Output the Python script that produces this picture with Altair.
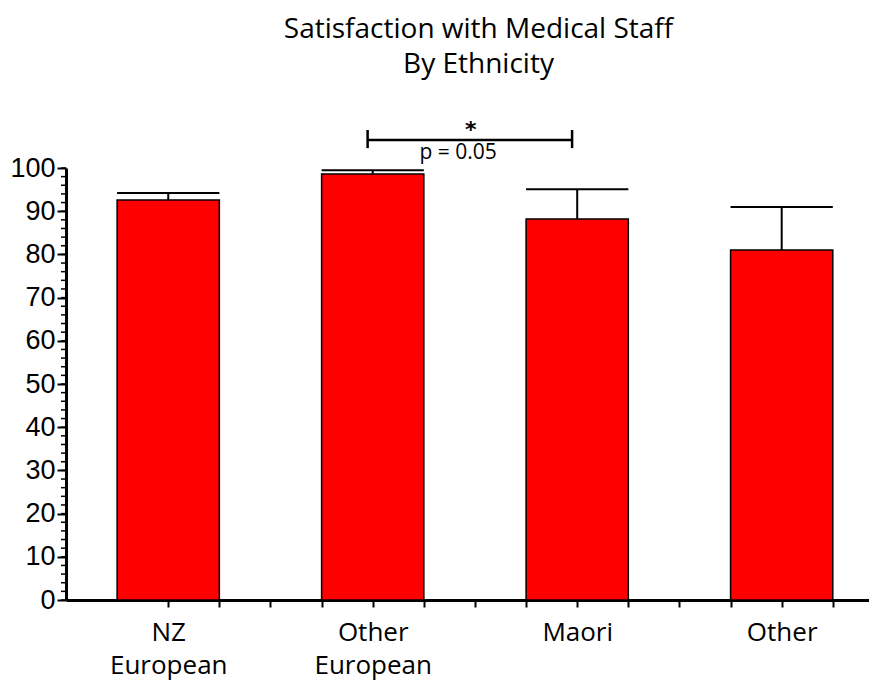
import altair as alt
import pandas as pd

# ---- data ----
categories = ["NZ European", "Other European", "Maori", "Other"]
label_lines = [["NZ", "European"], ["Other", "European"], ["Maori"], ["Other"]]
positions = [1, 2, 3, 4]
means = [92.6, 98.6, 88.2, 81.0]
upper = [94.2, 99.5, 95.1, 91.0]

y_major = [0, 10, 20, 30, 40, 50, 60, 70, 80, 90, 100]
y_minor = [0, 2, 4, 6, 8, 10, 12, 14, 16, 18, 20, 22, 24, 26, 28, 30, 32, 34, 36, 38, 40,
           42, 44, 46, 48, 50, 52, 54, 56, 58, 60, 62, 64, 66, 68, 70, 72, 74, 76, 78, 80,
           82, 84, 86, 88, 90, 92, 94, 96, 98, 100]
x_ticks = [1.0, 1.25, 1.5, 1.75, 2.0, 2.25, 2.5, 2.75, 3.0, 3.25, 3.5, 3.75, 4.0, 4.25]

# significance annotation (Other European vs Maori)
sig_x = [1.975, 2.975]
sig_y = 106.5
sig_tick_lo = 104.6
sig_tick_hi = 108.8
star_pos = (2.48, 108.8)
p_pos = (2.418, 103.5)
p_text = "p = 0.05"

bar_half = 0.25

df = pd.DataFrame({"cat": categories, "pos": positions, "mean": means, "upper": upper})
df["x0"] = df["pos"] - bar_half
df["x1"] = df["pos"] + bar_half

minor_df = pd.DataFrame({"v": y_minor})
bracket_h = pd.DataFrame({"x0": [sig_x[0]], "x1": [sig_x[1]], "y": [sig_y]})
bracket_v = pd.DataFrame({"x": sig_x, "y0": [sig_tick_lo] * 2, "y1": [sig_tick_hi] * 2})
star_df = pd.DataFrame({"x": [star_pos[0]], "y": [star_pos[1]], "t": ["*"]})
p_df = pd.DataFrame({"x": [p_pos[0]], "y": [p_pos[1]], "t": [p_text]})

# label expression built from the category lines
expr = "''"
for p, lines in reversed(list(zip(positions, label_lines))):
    arr = "[" + ",".join("'" + s + "'" for s in lines) + "]"
    expr = f"datum.value == {p} ? {arr} : ({expr})"

xscale = alt.Scale(domain=[0.5, 4.427], nice=False, zero=False)
yscale = alt.Scale(domain=[0, 100], nice=False)

xaxis = alt.Axis(values=x_ticks, labelExpr=expr, title=None, grid=False,
                 domainColor="black", domainWidth=3, tickColor="black", tickWidth=2,
                 tickSize=7, labelFont="Open Sans", labelFontSize=26, labelColor="black",
                 labelPadding=12, labelLineHeight=33, labelBaseline="top",
                 labelFlush=False, labelOverlap=False)
yaxis = alt.Axis(values=y_major, title=None, grid=False, domainColor="black",
                 domainWidth=3, tickColor="black", tickWidth=2, tickSize=9,
                 labelFont="Liberation Sans", labelFontSize=27, labelColor="black",
                 labelPadding=2, labelFlush=False, labelOverlap=False)


def X(f):
    return alt.X(f, type="quantitative", scale=xscale, axis=xaxis)


def Y(f):
    return alt.Y(f, type="quantitative", scale=yscale, axis=yaxis)


bars = alt.Chart(df).mark_bar(color="#ff0000", stroke="black", strokeWidth=1.5).encode(
    x=X("x0"), x2="x1", y=Y("mean"), y2=alt.datum(0)
)
err_v = alt.Chart(df).mark_rule(color="black", strokeWidth=2).encode(
    x=X("pos"), y=Y("mean"), y2="upper"
)
err_cap = alt.Chart(df).mark_rule(color="black", strokeWidth=2).encode(
    x=X("x0"), x2="x1", y=Y("upper")
)
minor = alt.Chart(minor_df).mark_rule(color="black", strokeWidth=1.5).encode(
    y=Y("v"), x=alt.value(-5), x2=alt.value(0)
)
br_h = alt.Chart(bracket_h).mark_rule(color="black", strokeWidth=2.5).encode(
    x=X("x0"), x2="x1", y=Y("y")
)
br_v = alt.Chart(bracket_v).mark_rule(color="black", strokeWidth=2.5).encode(
    x=X("x"), y=Y("y0"), y2="y1"
)
star = alt.Chart(star_df).mark_text(font="DejaVu Sans", fontSize=22, fontWeight="bold",
                                    color="black").encode(x=X("x"), y=Y("y"), text="t")
ptxt = alt.Chart(p_df).mark_text(font="Open Sans", fontSize=21, color="black").encode(
    x=X("x"), y=Y("y"), text="t")

chart = alt.layer(bars, err_v, err_cap, minor, br_h, br_v, star, ptxt).properties(
    width=803, height=432,
    padding={"left": 58, "top": 160, "right": 0, "bottom": 80},
    autosize=alt.AutoSizeParams(type="none"),
    background="white",
    title=alt.TitleParams(["Satisfaction with Medical Staff", "By Ethnicity"],
                          font="Open Sans", fontSize=28, fontWeight="normal",
                          color="black", anchor="middle", dx=11, offset=40,
                          lineHeight=35),
).configure_view(stroke=None)

chart.save("out.html", embed_options={"renderer": "svg", "actions": False})
